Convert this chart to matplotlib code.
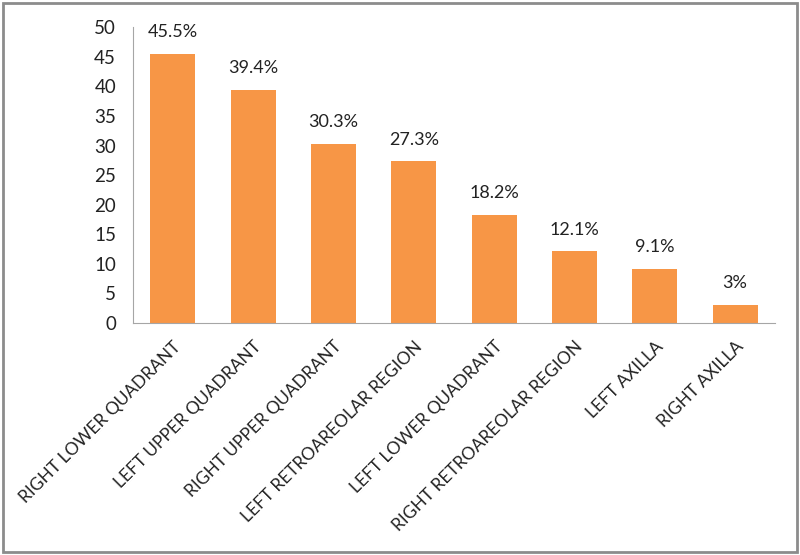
import numpy as np
import matplotlib.pyplot as plt
from matplotlib.patches import Rectangle

plt.rcParams['font.family'] = ['Lato', 'DejaVu Sans']

regions = ['RIGHT LOWER QUADRANT', 'LEFT UPPER QUADRANT', 'RIGHT UPPER QUADRANT',
           'LEFT RETROAREOLAR REGION', 'LEFT LOWER QUADRANT', 'RIGHT RETROAREOLAR REGION',
           'LEFT AXILLA', 'RIGHT AXILLA']
percent = [45.5, 39.4, 30.3, 27.3, 18.2, 12.1, 9.1, 3]
labels = ['45.5%', '39.4%', '30.3%', '27.3%', '18.2%', '12.1%', '9.1%', '3%']

fig = plt.figure(figsize=(8, 5.55), dpi=100)
ax = fig.add_axes([0.166, 0.418, 0.803, 0.533])

x = np.arange(len(regions))
bars = ax.bar(x, percent, width=0.56, color='#f79646')
for b, lab in zip(bars, labels):
    ax.annotate(lab, (b.get_x() + b.get_width() / 2, b.get_height()),
                xytext=(0, 10), textcoords='offset points',
                ha='center', va='bottom', fontsize=13, color='#222222')

ax.set_xlim(-0.5, len(regions) - 0.5)
ax.set_ylim(0, 50)
ax.set_yticks(range(0, 51, 5))
ax.set_xticks(x)
ax.set_xticklabels(regions, rotation=45, ha='right', rotation_mode='anchor', fontsize=12.5)
ax.tick_params(axis='both', length=0, colors='#222222')
ax.tick_params(axis='y', pad=12, labelsize=13.5)
ax.tick_params(axis='x', pad=11)
for s in ['top', 'right']:
    ax.spines[s].set_visible(False)
for s in ['left', 'bottom']:
    ax.spines[s].set_color('#a6a6a6')

fig.patches.append(Rectangle((0.004, 0.006), 0.992, 0.988, transform=fig.transFigure,
                             fill=False, edgecolor='#8c8c8c', linewidth=2))

fig.savefig('out.png', dpi=100)
